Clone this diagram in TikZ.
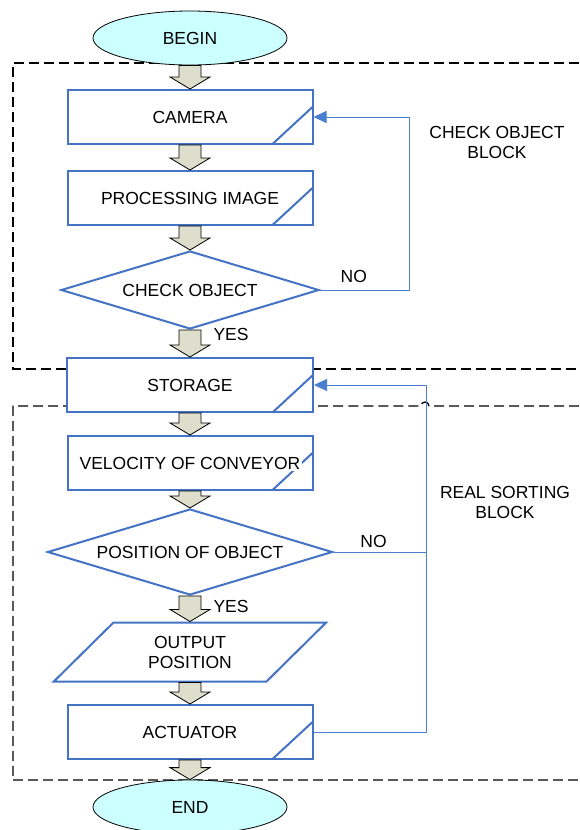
\documentclass[tikz,border=0pt]{standalone}
\usepackage{fontspec}
\setmainfont{Liberation Sans}
\usetikzlibrary{arrows.meta,shapes.geometric,calc,positioning}

\definecolor{boxblue}{RGB}{68,114,196}
\definecolor{lineblue}{RGB}{74,126,206}
\definecolor{termfill}{RGB}{204,255,255}
\definecolor{stepfill}{RGB}{221,223,204}
\setlength{\fboxsep}{1.5pt}

\begin{document}
\begin{tikzpicture}[
    x=1pt, y=1pt,
    font=\fontsize{17.5}{20}\selectfont,
    terminal/.style={ellipse,draw=black,line width=0.8pt,fill=termfill,minimum width=194pt,minimum height=54pt,inner sep=0pt},
    process/.style={rectangle,draw=boxblue,line width=2pt,fill=white,minimum width=245pt,minimum height=54pt,
        path picture={\draw[boxblue,line width=2pt] ([xshift=-40pt]path picture bounding box.south east) -- ([yshift=37pt]path picture bounding box.south east);}},
    decision/.style={diamond,draw=boxblue,line width=2pt,fill=white,inner sep=0pt,aspect=3.3},
    io/.style={trapezium,trapezium left angle=48,trapezium right angle=132,trapezium stretches=true,draw=boxblue,line width=2pt,fill=white,align=center,minimum width=273pt,minimum height=59pt},
    flow arrow/.style={draw=black,line width=0.8pt,fill=stepfill,line join=miter},
    feedback/.style={draw=lineblue,line width=1pt,-{Triangle[length=13pt,width=12pt]}},
    block frame/.style={draw=black,line width=1.3pt,dash pattern=on 10pt off 5pt},
    block title/.style={align=center}]

  \useasboundingbox (0,0) rectangle (579,-830);

  % dashed block frames
  \draw[block frame] (579,-63) -- (13,-63) -- (13,-369) -- (579,-369);
  \draw[block frame] (579,-406) -- (429,-406) arc (0:180:4) -- (13,-406) -- (13,-780);
  \draw[block frame,draw=black!65] (13,-780) -- (579,-780);

  \node[terminal] (start) at (190,-38) {BEGIN};
  \node[process] (camera) [below of=start, node distance=79pt] {CAMERA};
  \node[process] (procimage) [below of=camera, node distance=81pt] {PROCESSING IMAGE};
  \node[decision,minimum width=258pt,minimum height=78pt] (checkobj) [below of=procimage, node distance=92pt] {CHECK OBJECT};
  \node[process,minimum width=246pt] (storage) [below of=checkobj, node distance=95pt] {STORAGE};
  \node[process] (velocity) [below of=storage, node distance=78pt] {\colorbox{white}{VELOCITY OF CONVEYOR}};
  \node[decision,minimum width=285pt,minimum height=86pt] (position) [below of=velocity, node distance=89pt] {POSITION OF OBJECT};
  \node[io] (output) [below of=position, node distance=100pt] {OUTPUT\\POSITION};
  \node[process] (actuator) [below of=output, node distance=80pt] {ACTUATOR};
  \node[terminal] (finish) [below of=actuator, node distance=75pt] {END};

  \node[anchor=west] (yescheck) at ([xshift=20pt,yshift=-4pt]checkobj.south) {YES};
  \node[anchor=west] (yesposition) at ([xshift=20pt,yshift=-10pt]position.south) {YES};

  \node[block title] (checkblock) at (497,-142) {CHECK OBJECT\\BLOCK};
  \node[block title] (sortblock) at (505,-502) {REAL SORTING\\BLOCK};

  % block arrows between the steps
  \foreach \a/\b in {start/camera, camera/procimage, procimage/checkobj, checkobj/storage,
                     storage/velocity, velocity/position, position/output, output/actuator, actuator/finish}
    \draw[flow arrow] let \p1=(\a.south), \p2=(\b.north) in
      (\x1-11pt,\y1) -- (\x1+11pt,\y1) -- (\x1+11pt,\y2+12pt) -- (\x1+20pt,\y2+12pt)
      -- (\x1,\y2) -- (\x1-20pt,\y2+12pt) -- (\x1-11pt,\y2+12pt) -- cycle;

  % return paths
  \draw[feedback] (checkobj.east) -- node[pos=0.38,above=4pt,text=black] (nocheck) {NO} ++(89,0) |- (camera.east);
  \draw[feedback] (actuator.east) -- ++(113,0) coordinate (join) |- (storage.east);
  \draw[feedback,-] (position.east) -- node[pos=0.43,above=1pt,text=black] (noposition) {NO} (position.east -| join);

\end{tikzpicture}
\end{document}
